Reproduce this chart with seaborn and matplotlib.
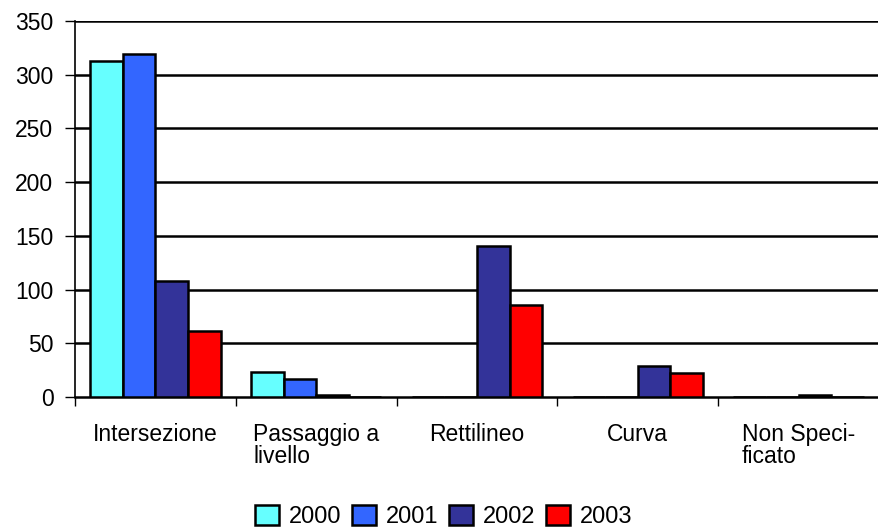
import matplotlib
matplotlib.use("Agg")
import matplotlib.pyplot as plt
import pandas as pd
import seaborn as sns

# categorie e valori
categorie = ["Intersezione", "Passaggio a\nlivello", "Rettilineo", "Curva", "Non Speci-\nficato"]
anni = ["2000", "2001", "2002", "2003"]
valori_2000 = [313, 23, 0, 0, 0]
valori_2001 = [319, 17, 0, 0, 0]
valori_2002 = [108, 2, 141, 29, 2]
valori_2003 = [61, 0, 86, 22, 0]
colori = ["#66FFFF", "#3366FF", "#333399", "#FF0000"]

rows = []
for anno, vals in zip(anni, [valori_2000, valori_2001, valori_2002, valori_2003]):
    for cat, v in zip(categorie, vals):
        rows.append({"categoria": cat, "anno": anno, "valore": v})
df = pd.DataFrame(rows)

sns.set_style("white")
plt.rcParams["font.family"] = ["Liberation Sans", "DejaVu Sans"]
plt.rcParams["text.color"] = "black"

fig = plt.figure(figsize=(8.79, 5.27), dpi=100)
ax = fig.add_axes([0.0853, 0.2467, 0.9147, 0.7133])

sns.barplot(
    data=df, x="categoria", y="valore", hue="anno", palette=colori, saturation=1,
    edgecolor="black", linewidth=1.8, width=0.81, ax=ax, errorbar=None, zorder=3,
)

# griglia orizzontale nera
ax.set_ylim(0, 350)
ax.set_yticks(range(0, 351, 50))
for y in range(50, 351, 50):
    ax.axhline(y, color="black", linewidth=1.8, zorder=1)
ax.set_xlim(-0.5, len(categorie) - 0.5)

# tick sui confini dei gruppi, etichette al centro
ax.set_xticks([i - 0.5 for i in range(len(categorie) + 1)])
ax.set_xticklabels([])
ax.set_xticks(range(len(categorie)), minor=True)
ax.set_xticklabels(categorie, minor=True, fontsize=16.5, ha="center",
                   multialignment="left", linespacing=0.98)
ax.tick_params(axis="x", which="minor", length=0, pad=18.5, labelcolor="black")
ax.tick_params(axis="x", which="major", direction="out", length=6.5, width=1, color="black", bottom=True)
ax.tick_params(axis="y", direction="out", length=7, width=1, color="black", left=True,
               labelsize=16.5, pad=8.5, labelcolor="black")

ax.set_xlabel("")
ax.set_ylabel("")
for s in ["top", "right"]:
    ax.spines[s].set_visible(False)
ax.spines["left"].set_color("black")
ax.spines["left"].set_linewidth(1.2)
ax.spines["bottom"].set_color("black")
ax.spines["bottom"].set_linewidth(1.8)

handles, labels = ax.get_legend_handles_labels()
ax.get_legend().remove()
fig.legend(
    handles, labels, loc="lower center", bbox_to_anchor=(0.505, -0.042), ncol=4, frameon=False,
    fontsize=17, handlelength=1.0, handleheight=0.9, handletextpad=0.43, columnspacing=0.45,
)

plt.savefig("out.png", dpi=100)
